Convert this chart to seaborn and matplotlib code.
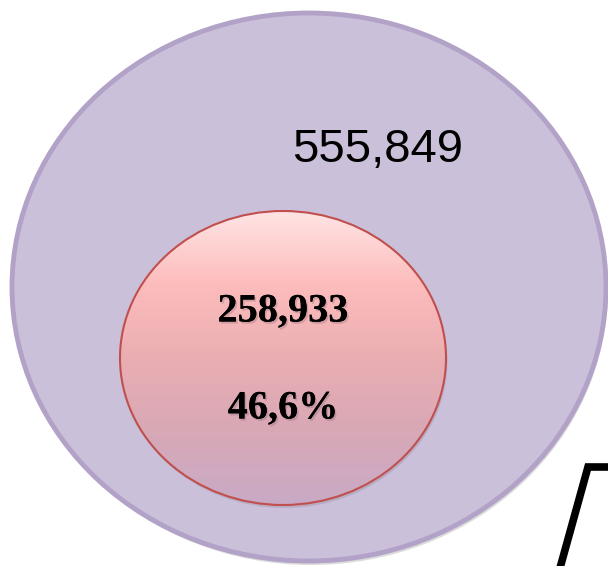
import numpy as np
import matplotlib
matplotlib.use("Agg")
import matplotlib.pyplot as plt
import matplotlib.patheffects as pe
from matplotlib.patches import Ellipse
from matplotlib.colors import LinearSegmentedColormap
import seaborn as sns

# data
total_label = "555,849"
subset_values = ["258,933", "46,6%"]
total_value = 555849
subset_value = 258933

sns.set_theme(style="white")
plt.rcParams["font.family"] = ["Liberation Sans", "DejaVu Sans"]

fig = plt.figure(figsize=(6.08, 5.66), dpi=100)
ax = fig.add_axes([0, 0, 1, 1])
ax.set_xlim(0, 608)
ax.set_ylim(566, 0)
ax.axis("off")

# outer ellipse (total), with a soft shadow
ax.add_patch(Ellipse((311, 290), 594, 550, facecolor="#9a9a9a", edgecolor="none", alpha=0.35, zorder=0))
outer = Ellipse((309, 287), 594, 548, facecolor="#cbc0da", edgecolor="#b3a2c7", linewidth=3.5, zorder=1)
ax.add_patch(outer)

# inner ellipse (subset) with vertical gradient
cx, cy, w, h = 283, 358, 326, 294
ax.add_patch(Ellipse((cx + 1.5, cy + 3), w, h, facecolor="#a898b0", edgecolor="none", alpha=0.5, zorder=1.5))
cmap = LinearSegmentedColormap.from_list("pinkgrad", ["#ffe4e4", "#fdbcbc", "#eaaeb2", "#d8a8b6", "#c8aac6"])
grad = np.linspace(0, 1, 256).reshape(-1, 1)
img = ax.imshow(grad, cmap=cmap, extent=[cx - w / 2, cx + w / 2, cy + h / 2, cy - h / 2],
                aspect="auto", zorder=2, interpolation="bilinear")
inner = Ellipse((cx, cy), w, h, facecolor="none", edgecolor="#c0504d", linewidth=1.5, zorder=3)
ax.add_patch(inner)
img.set_clip_path(inner)

ax.text(378, 150, total_label, fontsize=34, color="black", ha="center", va="center", zorder=4)

shadow = [pe.withSimplePatchShadow(offset=(1.2, -1.5), shadow_rgbFace="#6a5060", alpha=0.25), pe.Normal()]
ax.text(cx, 312, subset_values[0], fontsize=29, fontweight="bold", family="Liberation Serif", color="black",
        ha="center", va="center", zorder=4, path_effects=shadow)
ax.text(cx, 409, subset_values[1], fontsize=29, fontweight="bold", family="Liberation Serif", color="black",
        ha="center", va="center", zorder=4, path_effects=shadow)

# partial shape in bottom-right corner
ax.plot([560, 588, 610], [568, 467, 467], color="black", linewidth=5.5, solid_joinstyle="miter", zorder=5)

fig.savefig("out.png", dpi=100)
